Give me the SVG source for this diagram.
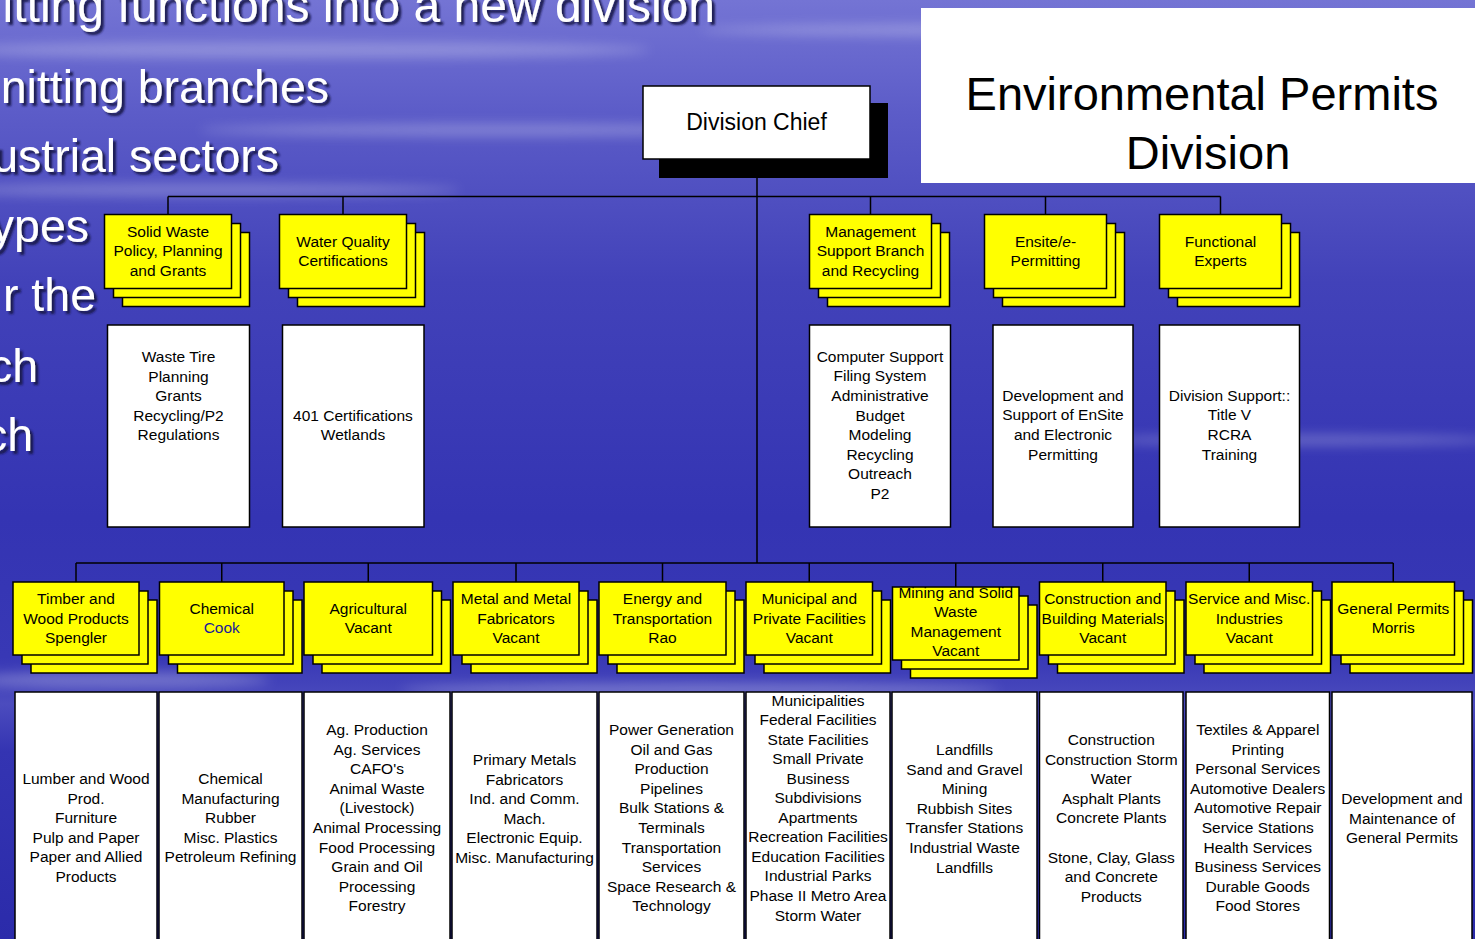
<svg xmlns="http://www.w3.org/2000/svg" width="1475" height="939" viewBox="0 0 1475 939">
<defs>
<linearGradient id="bg" x1="0" y1="0" x2="0" y2="1">
<stop offset="0" stop-color="#7474d4"/>
<stop offset="0.12" stop-color="#5c5cc8"/>
<stop offset="0.3" stop-color="#4242b9"/>
<stop offset="0.55" stop-color="#3434b3"/>
<stop offset="0.7" stop-color="#3838b5"/>
<stop offset="0.75" stop-color="#4c4cbe"/>
<stop offset="0.8" stop-color="#3434b2"/>
<stop offset="1" stop-color="#2b2baa"/>
</linearGradient>
<filter id="blur" x="-20%" y="-200%" width="140%" height="500%"><feGaussianBlur stdDeviation="6"/></filter>
<filter id="sh" x="-5%" y="-20%" width="110%" height="150%">
<feDropShadow dx="3" dy="3" stdDeviation="0.8" flood-color="#14144a" flood-opacity="0.95"/>
</filter>
<style>
.y{fill:#ffff00;stroke:#000;stroke-width:1.5}
.w{fill:#fff;stroke:#000;stroke-width:1.5}
.t{font-family:"Liberation Sans",Arial,sans-serif;font-size:15.5px;text-anchor:middle;fill:#000}
.c{stroke:#000;stroke-width:1.5;fill:none}
.big{font-family:"Liberation Sans",Arial,sans-serif;fill:#fff;text-anchor:end;filter:url(#sh)}
</style>
</defs>
<rect x="0" y="0" width="1475" height="939" fill="url(#bg)"/>
<g opacity="0.25" filter="url(#blur)" fill="#fff">
<ellipse cx="300" cy="50" rx="350" ry="8"/>
<ellipse cx="500" cy="130" rx="300" ry="6"/>
<ellipse cx="200" cy="190" rx="260" ry="6"/>
<ellipse cx="1000" cy="30" rx="300" ry="6"/>
<ellipse cx="1300" cy="440" rx="200" ry="5"/>
<ellipse cx="700" cy="690" rx="300" ry="7"/>
<ellipse cx="120" cy="680" rx="150" ry="8"/>
</g>

<g id="bullets">
<text class="big" x="715" y="22" font-size="48">itting functions into a new division</text>
<text class="big" x="329" y="103" font-size="46.5">nitting branches</text>
<text class="big" x="279" y="172" font-size="46.5">ustrial sectors</text>
<text class="big" x="89" y="242" font-size="46.5">ypes</text>
<text class="big" x="96" y="311" font-size="46.5">r the</text>
<text class="big" x="38" y="382" font-size="46.5">ch</text>
<text class="big" x="33" y="451" font-size="46.5">ch</text>
</g>

<g id="title">
<rect x="921" y="8" width="560" height="175" fill="#fff"/>
<text font-family="Liberation Sans,Arial,sans-serif" font-size="47" text-anchor="middle" x="1202" y="110">Environmental Permits</text>
<text font-family="Liberation Sans,Arial,sans-serif" font-size="47" text-anchor="middle" x="1208" y="169">Division</text>
</g>

<g id="connectors" class="c">
<line x1="757" y1="178" x2="757" y2="563"/>
<line x1="168" y1="196.5" x2="1220.5" y2="196.5"/>
<line x1="168" y1="196.5" x2="168" y2="214.5"/>
<line x1="343" y1="196.5" x2="343" y2="214.5"/>
<line x1="870.5" y1="196.5" x2="870.5" y2="214.5"/>
<line x1="1045.5" y1="196.5" x2="1045.5" y2="214.5"/>
<line x1="1220.5" y1="196.5" x2="1220.5" y2="214.5"/>
<line x1="76" y1="563" x2="1393.25" y2="563"/>
<line x1="76" y1="563" x2="76" y2="582"/>
<line x1="221.75" y1="563" x2="221.75" y2="582"/>
<line x1="368.25" y1="563" x2="368.25" y2="582"/>
<line x1="516" y1="563" x2="516" y2="582"/>
<line x1="662.5" y1="563" x2="662.5" y2="582"/>
<line x1="809.25" y1="563" x2="809.25" y2="582"/>
<line x1="955.75" y1="563" x2="955.75" y2="587"/>
<line x1="1102.75" y1="563" x2="1102.75" y2="582"/>
<line x1="1249.25" y1="563" x2="1249.25" y2="582"/>
<line x1="1393.25" y1="563" x2="1393.25" y2="582"/>
</g>

<g id="division-chief">
<rect x="659" y="103" width="229" height="75" fill="#000"/>
<rect class="w" x="643" y="86" width="227" height="73"/>
<text class="t" font-size="23" x="756.5" y="130" style="font-size:23px">Division Chief</text>
</g>

<g id="solid-waste">
<rect class="y" x="122.5" y="232.5" width="127" height="74"/>
<rect class="y" x="113.5" y="223.5" width="127" height="74"/>
<rect class="y" x="104.5" y="214.5" width="127" height="74"/>
<text class="t" y="236.7"><tspan x="168">Solid Waste</tspan><tspan x="168" dy="19.6">Policy, Planning</tspan><tspan x="168" dy="19.6">and Grants</tspan></text>
</g>
<g id="water-quality">
<rect class="y" x="297.5" y="232.5" width="127" height="74"/>
<rect class="y" x="288.5" y="223.5" width="127" height="74"/>
<rect class="y" x="279.5" y="214.5" width="127" height="74"/>
<text class="t" y="246.7"><tspan x="343">Water Quality</tspan><tspan x="343" dy="19.6">Certifications</tspan></text>
</g>
<g id="management-support">
<rect class="y" x="827.5" y="232.5" width="122" height="74"/>
<rect class="y" x="818.5" y="223.5" width="122" height="74"/>
<rect class="y" x="809.5" y="214.5" width="122" height="74"/>
<text class="t" y="236.7"><tspan x="870.5">Management</tspan><tspan x="870.5" dy="19.6">Support Branch</tspan><tspan x="870.5" dy="19.6">and Recycling</tspan></text>
</g>
<g id="ensite">
<rect class="y" x="1002.5" y="232.5" width="122" height="74"/>
<rect class="y" x="993.5" y="223.5" width="122" height="74"/>
<rect class="y" x="984.5" y="214.5" width="122" height="74"/>
<text class="t" y="246.7"><tspan x="1045.5">Ensite/<tspan font-style="italic">e</tspan>-</tspan><tspan x="1045.5" dy="19.6">Permitting</tspan></text>
</g>
<g id="functional-experts">
<rect class="y" x="1177.5" y="232.5" width="122" height="74"/>
<rect class="y" x="1168.5" y="223.5" width="122" height="74"/>
<rect class="y" x="1159.5" y="214.5" width="122" height="74"/>
<text class="t" y="246.7"><tspan x="1220.5">Functional</tspan><tspan x="1220.5" dy="19.6">Experts</tspan></text>
</g>

<g id="solid-waste-duties">
<rect class="w" x="107.5" y="325" width="142" height="202"/>
<text class="t" y="362"><tspan x="178.5">Waste Tire</tspan><tspan x="178.5" dy="19.6">Planning</tspan><tspan x="178.5" dy="19.6">Grants</tspan><tspan x="178.5" dy="19.6">Recycling/P2</tspan><tspan x="178.5" dy="19.6">Regulations</tspan></text>
</g>
<g id="water-quality-duties">
<rect class="w" x="282.5" y="325" width="141.5" height="202"/>
<text class="t" y="420.7"><tspan x="353">401 Certifications</tspan><tspan x="353" dy="19.6">Wetlands</tspan></text>
</g>
<g id="management-duties">
<rect class="w" x="809.5" y="325" width="141" height="202"/>
<text class="t" y="361.7"><tspan x="880">Computer Support</tspan><tspan x="880" dy="19.6">Filing System</tspan><tspan x="880" dy="19.6">Administrative</tspan><tspan x="880" dy="19.6">Budget</tspan><tspan x="880" dy="19.6">Modeling</tspan><tspan x="880" dy="19.6">Recycling</tspan><tspan x="880" dy="19.6">Outreach</tspan><tspan x="880" dy="19.6">P2</tspan></text>
</g>
<g id="ensite-duties">
<rect class="w" x="993" y="325" width="140" height="202"/>
<text class="t" y="400.7"><tspan x="1063">Development and</tspan><tspan x="1063" dy="19.6">Support of EnSite</tspan><tspan x="1063" dy="19.6">and Electronic</tspan><tspan x="1063" dy="19.6">Permitting</tspan></text>
</g>
<g id="functional-duties">
<rect class="w" x="1159.5" y="325" width="140" height="202"/>
<text class="t" y="400.7"><tspan x="1229.5">Division Support::</tspan><tspan x="1229.5" dy="19.6">Title V</tspan><tspan x="1229.5" dy="19.6">RCRA</tspan><tspan x="1229.5" dy="19.6">Training</tspan></text>
</g>

<g id="timber">
<rect class="y" x="31" y="600" width="126" height="73"/>
<rect class="y" x="22" y="591" width="126" height="73"/>
<rect class="y" x="13" y="582" width="126" height="73"/>
<text class="t" y="604"><tspan x="76">Timber and</tspan><tspan x="76" dy="19.6">Wood Products</tspan><tspan x="76" dy="19.6">Spengler</tspan></text>
</g>
<g id="chemical">
<rect class="y" x="177.5" y="600" width="124.5" height="73"/>
<rect class="y" x="168.5" y="591" width="124.5" height="73"/>
<rect class="y" x="159.5" y="582" width="124.5" height="73"/>
<text class="t" y="614"><tspan x="221.75">Chemical</tspan><tspan x="221.75" dy="19.3" fill="#1a1a99">Cook</tspan></text>
</g>
<g id="agricultural">
<rect class="y" x="322" y="600" width="128.5" height="73"/>
<rect class="y" x="313" y="591" width="128.5" height="73"/>
<rect class="y" x="304" y="582" width="128.5" height="73"/>
<text class="t" y="614"><tspan x="368.25">Agricultural</tspan><tspan x="368.25" dy="19.3">Vacant</tspan></text>
</g>
<g id="metal">
<rect class="y" x="471" y="600" width="126" height="73"/>
<rect class="y" x="462" y="591" width="126" height="73"/>
<rect class="y" x="453" y="582" width="126" height="73"/>
<text class="t" y="604"><tspan x="516">Metal and Metal</tspan><tspan x="516" dy="19.6">Fabricators</tspan><tspan x="516" dy="19.6">Vacant</tspan></text>
</g>
<g id="energy">
<rect class="y" x="617" y="600" width="127" height="73"/>
<rect class="y" x="608" y="591" width="127" height="73"/>
<rect class="y" x="599" y="582" width="127" height="73"/>
<text class="t" y="604"><tspan x="662.5">Energy and</tspan><tspan x="662.5" dy="19.6">Transportation</tspan><tspan x="662.5" dy="19.6">Rao</tspan></text>
</g>
<g id="municipal">
<rect class="y" x="764" y="600" width="126.5" height="73"/>
<rect class="y" x="755" y="591" width="126.5" height="73"/>
<rect class="y" x="746" y="582" width="126.5" height="73"/>
<text class="t" y="604"><tspan x="809.25">Municipal and</tspan><tspan x="809.25" dy="19.6">Private Facilities</tspan><tspan x="809.25" dy="19.6">Vacant</tspan></text>
</g>
<g id="mining">
<rect class="y" x="910.5" y="605" width="126.5" height="73"/>
<rect class="y" x="901.5" y="596" width="126.5" height="73"/>
<rect class="y" x="892.5" y="587" width="126.5" height="73"/>
<text class="t" y="597.5"><tspan x="955.75">Mining and Solid</tspan><tspan x="955.75" dy="19.6">Waste</tspan><tspan x="955.75" dy="19.6">Management</tspan><tspan x="955.75" dy="19.6">Vacant</tspan></text>
</g>
<g id="construction">
<rect class="y" x="1057.5" y="600" width="126.5" height="73"/>
<rect class="y" x="1048.5" y="591" width="126.5" height="73"/>
<rect class="y" x="1039.5" y="582" width="126.5" height="73"/>
<text class="t" y="604"><tspan x="1102.75">Construction and</tspan><tspan x="1102.75" dy="19.6">Building Materials</tspan><tspan x="1102.75" dy="19.6">Vacant</tspan></text>
</g>
<g id="service">
<rect class="y" x="1204" y="600" width="126.5" height="73"/>
<rect class="y" x="1195" y="591" width="126.5" height="73"/>
<rect class="y" x="1186" y="582" width="126.5" height="73"/>
<text class="t" y="604"><tspan x="1249.25">Service and Misc.</tspan><tspan x="1249.25" dy="19.6">Industries</tspan><tspan x="1249.25" dy="19.6">Vacant</tspan></text>
</g>
<g id="general-permits">
<rect class="y" x="1350" y="600" width="122.5" height="73"/>
<rect class="y" x="1341" y="591" width="122.5" height="73"/>
<rect class="y" x="1332" y="582" width="122.5" height="73"/>
<text class="t" y="614"><tspan x="1393.25">General Permits</tspan><tspan x="1393.25" dy="19.3">Morris</tspan></text>
</g>

<g id="timber-sectors">
<rect class="w" x="15" y="692" width="142" height="260"/>
<text class="t" y="784"><tspan x="86">Lumber and Wood</tspan><tspan x="86" dy="19.6">Prod.</tspan><tspan x="86" dy="19.6">Furniture</tspan><tspan x="86" dy="19.6">Pulp and Paper</tspan><tspan x="86" dy="19.6">Paper and Allied</tspan><tspan x="86" dy="19.6">Products</tspan></text>
</g>
<g id="chemical-sectors">
<rect class="w" x="159" y="692" width="143" height="260"/>
<text class="t" y="784"><tspan x="230.5">Chemical</tspan><tspan x="230.5" dy="19.6">Manufacturing</tspan><tspan x="230.5" dy="19.6">Rubber</tspan><tspan x="230.5" dy="19.6">Misc. Plastics</tspan><tspan x="230.5" dy="19.6">Petroleum Refining</tspan></text>
</g>
<g id="agricultural-sectors">
<rect class="w" x="304" y="692" width="146" height="260"/>
<text class="t" y="735"><tspan x="377">Ag. Production</tspan><tspan x="377" dy="19.6">Ag. Services</tspan><tspan x="377" dy="19.6">CAFO's</tspan><tspan x="377" dy="19.6">Animal Waste</tspan><tspan x="377" dy="19.6">(Livestock)</tspan><tspan x="377" dy="19.6">Animal Processing</tspan><tspan x="377" dy="19.6">Food Processing</tspan><tspan x="377" dy="19.6">Grain and Oil</tspan><tspan x="377" dy="19.6">Processing</tspan><tspan x="377" dy="19.6">Forestry</tspan></text>
</g>
<g id="metal-sectors">
<rect class="w" x="452" y="692" width="145" height="260"/>
<text class="t" y="765"><tspan x="524.5">Primary Metals</tspan><tspan x="524.5" dy="19.6">Fabricators</tspan><tspan x="524.5" dy="19.6">Ind. and Comm.</tspan><tspan x="524.5" dy="19.6">Mach.</tspan><tspan x="524.5" dy="19.6">Electronic Equip.</tspan><tspan x="524.5" dy="19.6">Misc. Manufacturing</tspan></text>
</g>
<g id="energy-sectors">
<rect class="w" x="599" y="692" width="145" height="260"/>
<text class="t" y="735"><tspan x="671.5">Power Generation</tspan><tspan x="671.5" dy="19.6">Oil and Gas</tspan><tspan x="671.5" dy="19.6">Production</tspan><tspan x="671.5" dy="19.6">Pipelines</tspan><tspan x="671.5" dy="19.6">Bulk Stations &amp;</tspan><tspan x="671.5" dy="19.6">Terminals</tspan><tspan x="671.5" dy="19.6">Transportation</tspan><tspan x="671.5" dy="19.6">Services</tspan><tspan x="671.5" dy="19.6">Space Research &amp;</tspan><tspan x="671.5" dy="19.6">Technology</tspan></text>
</g>
<g id="municipal-sectors">
<rect class="w" x="746" y="692" width="144" height="260"/>
<text class="t" y="705.5"><tspan x="818">Municipalities</tspan><tspan x="818" dy="19.55">Federal Facilities</tspan><tspan x="818" dy="19.55">State Facilities</tspan><tspan x="818" dy="19.55">Small Private</tspan><tspan x="818" dy="19.55">Business</tspan><tspan x="818" dy="19.55">Subdivisions</tspan><tspan x="818" dy="19.55">Apartments</tspan><tspan x="818" dy="19.55">Recreation Facilities</tspan><tspan x="818" dy="19.55">Education Facilities</tspan><tspan x="818" dy="19.55">Industrial Parks</tspan><tspan x="818" dy="19.55">Phase II Metro Area</tspan><tspan x="818" dy="19.55">Storm Water</tspan></text>
</g>
<g id="mining-sectors">
<rect class="w" x="892" y="692" width="145" height="260"/>
<text class="t" y="755"><tspan x="964.5">Landfills</tspan><tspan x="964.5" dy="19.6">Sand and Gravel</tspan><tspan x="964.5" dy="19.6">Mining</tspan><tspan x="964.5" dy="19.6">Rubbish Sites</tspan><tspan x="964.5" dy="19.6">Transfer Stations</tspan><tspan x="964.5" dy="19.6">Industrial Waste</tspan><tspan x="964.5" dy="19.6">Landfills</tspan></text>
</g>
<g id="construction-sectors">
<rect class="w" x="1039.5" y="692" width="143.5" height="260"/>
<text class="t" y="745"><tspan x="1111.25">Construction</tspan><tspan x="1111.25" dy="19.6">Construction Storm</tspan><tspan x="1111.25" dy="19.6">Water</tspan><tspan x="1111.25" dy="19.6">Asphalt Plants</tspan><tspan x="1111.25" dy="19.6">Concrete Plants</tspan><tspan x="1111.25" dy="39.2">Stone, Clay, Glass</tspan><tspan x="1111.25" dy="19.6">and Concrete</tspan><tspan x="1111.25" dy="19.6">Products</tspan></text>
</g>
<g id="service-sectors">
<rect class="w" x="1186" y="692" width="143.5" height="260"/>
<text class="t" y="735"><tspan x="1257.75">Textiles &amp; Apparel</tspan><tspan x="1257.75" dy="19.6">Printing</tspan><tspan x="1257.75" dy="19.6">Personal Services</tspan><tspan x="1257.75" dy="19.6">Automotive Dealers</tspan><tspan x="1257.75" dy="19.6">Automotive Repair</tspan><tspan x="1257.75" dy="19.6">Service Stations</tspan><tspan x="1257.75" dy="19.6">Health Services</tspan><tspan x="1257.75" dy="19.6">Business Services</tspan><tspan x="1257.75" dy="19.6">Durable Goods</tspan><tspan x="1257.75" dy="19.6">Food Stores</tspan></text>
</g>
<g id="general-permits-duties">
<rect class="w" x="1332" y="692" width="140" height="260"/>
<text class="t" y="804"><tspan x="1402">Development and</tspan><tspan x="1402" dy="19.6">Maintenance of</tspan><tspan x="1402" dy="19.6">General Permits</tspan></text>
</g>
</svg>
